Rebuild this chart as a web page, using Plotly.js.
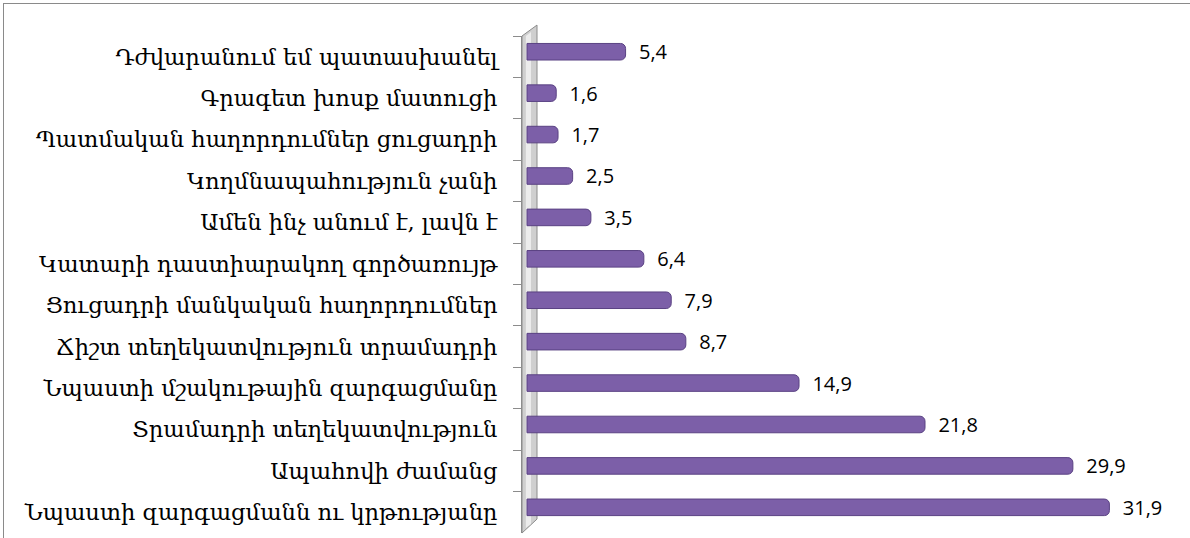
<!DOCTYPE html>
<html>
<head>
<meta charset="utf-8">
<script src="https://cdn.plot.ly/plotly-3.0.1.min.js"></script>
<style>
  html, body { margin: 0; padding: 0; background: #ffffff; }
  #chart { width: 1190px; height: 538px; position: relative; }
  #frame { position: absolute; left: 3px; top: 3px; width: 1300px; height: 600px;
           border-top: 1px solid #8a8a8a; border-left: 1px solid #8a8a8a; pointer-events: none; }
</style>
</head>
<body>
<div id="chart"></div>
<div id="frame"></div>
<script>
const categories = [
  "Դժվարանում եմ պատասխանել",
  "Գրագետ խոսք մատուցի",
  "Պատմական հաղորդումներ ցուցադրի",
  "Կողմնապահություն չանի",
  "Ամեն ինչ անում է, լավն է",
  "Կատարի դաստիարակող գործառույթ",
  "Ցուցադրի մանկական հաղորդումներ",
  "Ճիշտ տեղեկատվություն տրամադրի",
  "Նպաստի մշակութային զարգացմանը",
  "Տրամադրի տեղեկատվություն",
  "Ապահովի ժամանց",
  "Նպաստի զարգացմանն ու կրթությանը"
];
const values = [5.4, 1.6, 1.7, 2.5, 3.5, 6.4, 7.9, 8.7, 14.9, 21.8, 29.9, 31.9];

const trace = {
  type: "bar",
  orientation: "h",
  y: categories,
  x: values,
  width: 0.40,
  offset: -0.32,
  marker: {
    color: "#7c5fa8",
    line: { color: "#5a4283", width: 1 },
    cornerradius: 5
  },
  texttemplate: "\u00a0\u00a0%{x:.1f}",
  textposition: "outside",
  constraintext: "none",
  textfont: { family: "Open Sans, Liberation Sans, sans-serif", size: 20, color: "#000000" },
  cliponaxis: false,
  hoverinfo: "skip"
};

const layout = {
  width: 1190,
  height: 538,
  margin: { l: 522, r: 24, t: 36, b: 5 },
  paper_bgcolor: "rgba(0,0,0,0)",
  plot_bgcolor: "rgba(0,0,0,0)",
  separators: ", ",
  showlegend: false,
  bargap: 0.6,
  xaxis: {
    range: [-0.274, 35],
    showgrid: false,
    zeroline: false,
    showticklabels: false,
    ticks: "",
    showline: false
  },
  yaxis: {
    type: "category",
    autorange: "reversed",
    showgrid: false,
    zeroline: false,
    showline: true,
    linecolor: "#8c8c8c",
    linewidth: 1,
    ticks: "outside",
    tickson: "boundaries",
    ticklen: 8,
    tickcolor: "#8c8c8c",
    tickwidth: 1,
    ticklabelstandoff: 19,
    tickfont: { family: "DejaVu Serif, DejaVu Sans, serif", size: 22.6, color: "#000000" }
  },
  shapes: [
    {
      type: "path", xref: "paper", yref: "paper", layer: "below",
      path: "M 0 0 L 0 1 L 0.0233 1.022 L 0.0233 0.028 Z",
      fillcolor: "#cfcfcf",
      line: { color: "#8c8c8c", width: 1 }
    },
    {
      type: "path", xref: "paper", yref: "paper", layer: "below",
      path: "M 0.006 0.01 L 0.006 1.0 L 0.014 1.008 L 0.014 0.018 Z",
      fillcolor: "#ececec",
      line: { width: 0 }
    }
  ]
};

Plotly.newPlot("chart", [trace], layout, { displayModeBar: false, staticPlot: true });
</script>
</body>
</html>
